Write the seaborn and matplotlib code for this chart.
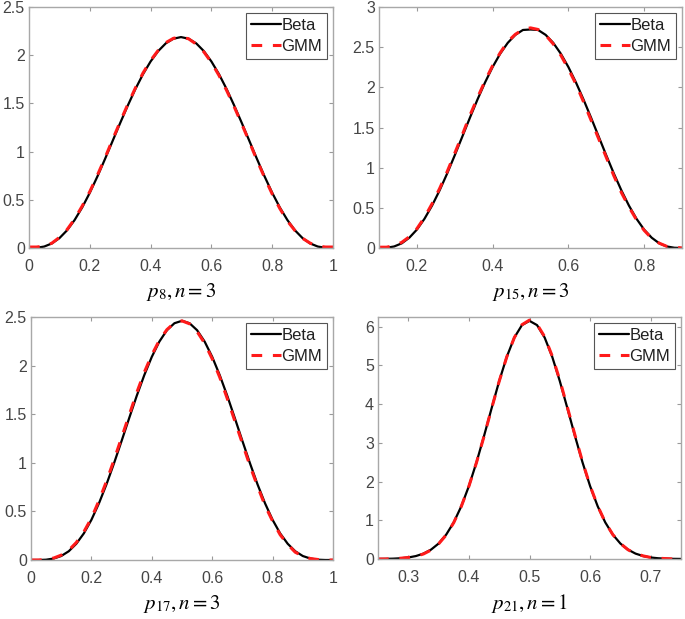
import matplotlib
matplotlib.use("Agg")
import matplotlib.pyplot as plt
import seaborn as sns

# values
x_p8 = [0, 0.025, 0.05, 0.075, 0.1, 0.125, 0.15, 0.175, 0.2, 0.225, 0.25, 0.275, 0.3, 0.325, 0.35,
        0.375, 0.4, 0.425, 0.45, 0.475, 0.5, 0.525, 0.55, 0.575, 0.6, 0.625, 0.65, 0.675, 0.7,
        0.725, 0.75, 0.775, 0.8, 0.825, 0.85, 0.875, 0.9, 0.925, 0.95, 0.975, 1.0]
beta_p8 = [0, 0.002, 0.015, 0.047, 0.102, 0.183, 0.29, 0.421, 0.573, 0.742, 0.923, 1.11, 1.297,
           1.478, 1.649, 1.803, 1.935, 2.043, 2.123, 2.171, 2.188, 2.171, 2.123, 2.043, 1.935,
           1.803, 1.649, 1.478, 1.297, 1.11, 0.923, 0.742, 0.573, 0.421, 0.29, 0.183, 0.102,
           0.047, 0.015, 0.002, 0]
gmm_p8 = [0.01, 0.01, 0.02, 0.05, 0.11, 0.19, 0.30, 0.435, 0.585, 0.755, 0.935, 1.125, 1.31,
          1.49, 1.66, 1.815, 1.945, 2.05, 2.13, 2.175, 2.19, 2.17, 2.115, 2.035, 1.925, 1.79,
          1.635, 1.465, 1.285, 1.10, 0.91, 0.73, 0.56, 0.41, 0.28, 0.18, 0.10, 0.05, 0.02,
          0.01, 0.01]

x_p15 = [0.1, 0.12, 0.14, 0.16, 0.18, 0.2, 0.22, 0.24, 0.26, 0.28, 0.3, 0.32, 0.34, 0.36, 0.38,
         0.4, 0.42, 0.44, 0.46, 0.48, 0.5, 0.52, 0.54, 0.56, 0.58, 0.6, 0.62, 0.64, 0.66, 0.68,
         0.7, 0.72, 0.74, 0.76, 0.78, 0.8, 0.82, 0.84, 0.86, 0.88, 0.9]
beta_p15 = [0, 0.003, 0.019, 0.058, 0.128, 0.229, 0.363, 0.527, 0.717, 0.928, 1.154, 1.387,
            1.621, 1.848, 2.061, 2.253, 2.419, 2.554, 2.653, 2.714, 2.72, 2.714, 2.653, 2.554,
            2.419, 2.253, 2.061, 1.848, 1.621, 1.387, 1.154, 0.928, 0.717, 0.527, 0.363, 0.229,
            0.128, 0.058, 0.019, 0.003, 0]
gmm_p15 = [0.01, 0.01, 0.03, 0.07, 0.14, 0.24, 0.38, 0.55, 0.74, 0.95, 1.18, 1.41, 1.65, 1.87,
           2.08, 2.27, 2.43, 2.57, 2.66, 2.72, 2.74, 2.72, 2.65, 2.54, 2.40, 2.23, 2.04, 1.82,
           1.59, 1.36, 1.13, 0.90, 0.69, 0.51, 0.35, 0.22, 0.12, 0.06, 0.02, 0.01, 0.0]

x_p17 = x_p8
beta_p17 = [0, 0, 0.003, 0.015, 0.041, 0.09, 0.167, 0.274, 0.413, 0.583, 0.779, 0.996, 1.225,
            1.459, 1.688, 1.901, 2.09, 2.247, 2.364, 2.436, 2.461, 2.436, 2.364, 2.247, 2.09,
            1.901, 1.688, 1.459, 1.225, 0.996, 0.779, 0.583, 0.413, 0.274, 0.167, 0.09, 0.041,
            0.015, 0.003, 0, 0]
gmm_p17 = [0.0, 0.0, 0.005, 0.02, 0.05, 0.10, 0.18, 0.29, 0.43, 0.61, 0.81, 1.03, 1.26, 1.49,
           1.72, 1.93, 2.11, 2.26, 2.37, 2.44, 2.46, 2.43, 2.35, 2.23, 2.07, 1.88, 1.66, 1.43,
           1.20, 0.97, 0.76, 0.56, 0.40, 0.26, 0.16, 0.08, 0.04, 0.015, 0.005, 0.0, 0.0]

x_p21 = [0.25, 0.2625, 0.275, 0.2875, 0.3, 0.3125, 0.325, 0.3375, 0.35, 0.3625, 0.375, 0.3875,
         0.4, 0.4125, 0.425, 0.4375, 0.45, 0.4625, 0.475, 0.4875, 0.5, 0.5125, 0.525, 0.5375,
         0.55, 0.5625, 0.575, 0.5875, 0.6, 0.6125, 0.625, 0.6375, 0.65, 0.6625, 0.675, 0.6875,
         0.7, 0.7125, 0.725, 0.7375, 0.75]
beta_p21 = [0.002, 0.004, 0.009, 0.019, 0.039, 0.076, 0.139, 0.242, 0.399, 0.629, 0.946, 1.363,
            1.883, 2.495, 3.179, 3.895, 4.595, 5.222, 5.719, 6.04, 6.15, 6.04, 5.719, 5.222,
            4.595, 3.895, 3.179, 2.495, 1.883, 1.363, 0.946, 0.629, 0.399, 0.242, 0.139, 0.076,
            0.039, 0.019, 0.009, 0.004, 0.002]
gmm_p21 = [0.0, 0.0, 0.01, 0.02, 0.04, 0.07, 0.13, 0.23, 0.39, 0.62, 0.94, 1.36, 1.88, 2.49,
           3.17, 3.89, 4.59, 5.22, 5.72, 6.05, 6.17, 6.06, 5.74, 5.24, 4.62, 3.92, 3.20, 2.51,
           1.89, 1.37, 0.95, 0.63, 0.40, 0.24, 0.14, 0.08, 0.04, 0.02, 0.01, 0.0, 0.0]

panels = [
    (x_p8, beta_p8, gmm_p8, r"$p_{8}, n=3$"),
    (x_p15, beta_p15, gmm_p15, r"$p_{15}, n=3$"),
    (x_p17, beta_p17, gmm_p17, r"$p_{17}, n=3$"),
    (x_p21, beta_p21, gmm_p21, r"$p_{21}, n=1$"),
]
xlims = [(0, 1), (0.1, 0.9), (0, 1), (0.25, 0.75)]
ylims = [(0, 2.5), (0, 3), (0, 2.5), (0, 6.25)]
xticks = [[0, 0.2, 0.4, 0.6, 0.8, 1], [0.2, 0.4, 0.6, 0.8],
          [0, 0.2, 0.4, 0.6, 0.8, 1], [0.3, 0.4, 0.5, 0.6, 0.7]]
yticks = [[0, 0.5, 1, 1.5, 2, 2.5], [0, 0.5, 1, 1.5, 2, 2.5, 3],
          [0, 0.5, 1, 1.5, 2, 2.5], [0, 1, 2, 3, 4, 5, 6]]

sns.set_style("ticks")
plt.rcParams["font.family"] = ["Liberation Sans", "DejaVu Sans"]
plt.rcParams["mathtext.fontset"] = "stix"

W, H = 685, 619
fig = plt.figure(figsize=(W / 100, H / 100), dpi=100)
# pixel boxes (left, top, right, bottom)
boxes = [(29, 7, 333, 248), (379, 7, 682, 248), (31, 317, 333, 560), (378, 317, 681, 559)]

for i, (xv, bv, gv, lab) in enumerate(panels):
    l, t, r, b = boxes[i]
    ax = fig.add_axes([l / W, 1 - b / H, (r - l) / W, (b - t) / H])
    sns.lineplot(x=xv, y=bv, ax=ax, color="black", linewidth=1.6, label="Beta")
    sns.lineplot(x=xv, y=gv, ax=ax, color="#ff1a1a", linewidth=2.2,
                 linestyle=(0, (3.5, 3.5)), label="GMM")
    ax.set_xlim(*xlims[i])
    ax.set_ylim(*ylims[i])
    ax.set_xticks(xticks[i])
    ax.set_xticklabels([f"{v:g}" for v in xticks[i]])
    ax.set_yticks(yticks[i])
    ax.set_yticklabels([f"{v:g}" for v in yticks[i]])
    ax.tick_params(direction="in", length=3, width=0.8, color="#9a9a9a",
                   labelsize=11.5, labelcolor="#454545", top=True, right=True)
    ax.tick_params(axis="x", pad=8)
    ax.tick_params(axis="y", pad=3)
    for s in ax.spines.values():
        s.set_color("#a8a8a8")
        s.set_linewidth(1.0)
    ax.set_xlabel(lab, fontsize=15, color="black", labelpad=5)
    ax.set_ylabel("")
    leg = ax.legend(loc="upper right", fancybox=False, framealpha=1, edgecolor="#555555",
                    fontsize=12, handlelength=1.75, handletextpad=0.05, borderpad=0.3,
                    labelspacing=0.35, borderaxespad=0.35)
    leg.get_frame().set_linewidth(0.8)
    for txt in leg.get_texts():
        txt.set_color("#202020")

fig.savefig("out.png", dpi=100)
